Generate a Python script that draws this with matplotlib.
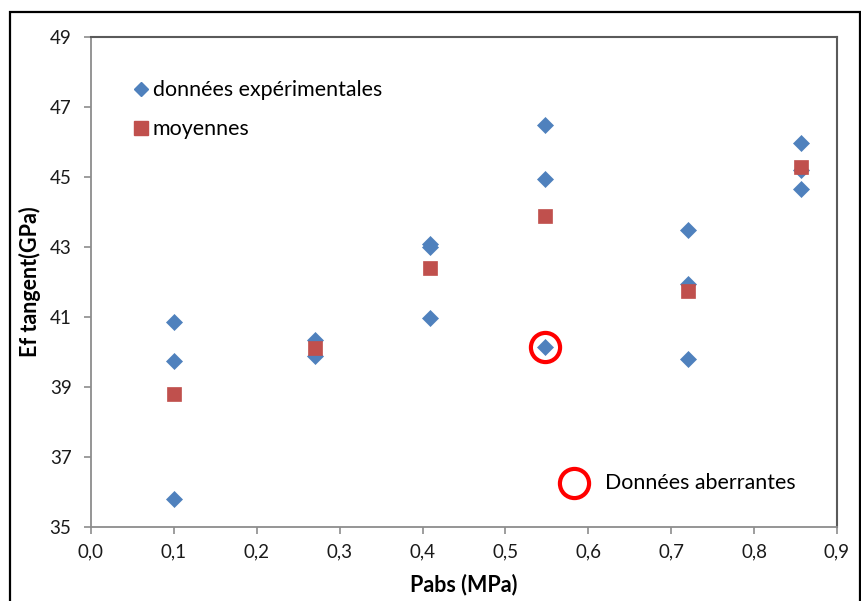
import matplotlib
matplotlib.use("Agg")
import matplotlib.pyplot as plt
from matplotlib.lines import Line2D
from matplotlib.patches import Rectangle
from matplotlib.ticker import FuncFormatter, MultipleLocator

plt.rcParams['font.family'] = ['Lato', 'DejaVu Sans']

# Experimental data
pressure_exp = [0.100, 0.100, 0.100,
                0.270, 0.270,
                0.409, 0.409, 0.409,
                0.548, 0.548, 0.548,
                0.720, 0.720, 0.720,
                0.857, 0.857, 0.857]
ef_exp = [40.85, 39.75, 35.80,
          40.35, 39.90,
          43.10, 43.00, 40.97,
          46.50, 44.93, 40.13,
          43.49, 41.95, 39.79,
          45.98, 45.20, 44.65]

# Means
pressure_mean = [0.100, 0.270, 0.409, 0.548, 0.720, 0.857]
ef_mean = [38.80, 40.12, 42.40, 43.88, 41.75, 45.30]

# Outlier
outlier_x = [0.548]
outlier_y = [40.13]

y_ticks = [35, 37, 39, 41, 43, 45, 47, 49]

blue = '#4F81BD'
red = '#C0504D'

W, H = 862, 601
fig = plt.figure(figsize=(W / 100, H / 100), dpi=100)
ax = fig.add_axes([91 / W, 1 - 527 / H, (837 - 91) / W, (527 - 37) / H])

ax.plot(pressure_exp, ef_exp, linestyle='none', marker='D', ms=8.3,
        color=blue, mec=blue, mew=0.5, zorder=3)
ax.plot(pressure_mean, ef_mean, linestyle='none', marker='s', ms=10.5,
        color=red, mec=red, mew=0.5, zorder=4)
ax.plot(outlier_x, outlier_y, linestyle='none', marker='o', ms=21,
        mfc='none', mec='#FF0000', mew=3, zorder=5)

ax.set_xlim(0, 0.9)
ax.set_ylim(35, 49)
ax.xaxis.set_major_locator(MultipleLocator(0.1))
ax.set_yticks(y_ticks)
ax.xaxis.set_major_formatter(FuncFormatter(lambda v, p: f"{v:.1f}".replace('.', ',')))
ax.yaxis.set_major_formatter(FuncFormatter(lambda v, p: f"{v:.0f}"))

for s in ['left', 'bottom']:
    ax.spines[s].set_color('#8C8C8C')
    ax.spines[s].set_linewidth(1.3)
for s in ['top', 'right']:
    ax.spines[s].set_color('#5A5A5A')
    ax.spines[s].set_linewidth(1.5)

ax.tick_params(axis='both', direction='out', length=5, width=1.2,
               color='#8C8C8C', labelsize=13.5, labelcolor='#1a1a1a')
ax.tick_params(axis='y', pad=9)
ax.tick_params(axis='x', pad=7)

ax.set_xlabel('Pabs (MPa)', fontsize=15.5, fontweight='bold', va='center')
ax.xaxis.set_label_coords(0.5, (527 - 585) / 490)
ax.set_ylabel('Ef tangent(GPa)', fontsize=15.5, fontweight='bold', va='center')
ax.yaxis.set_label_coords((30 - 91) / 746, 0.5)

handles = [Line2D([], [], linestyle='none', marker='D', ms=7, color=blue),
           Line2D([], [], linestyle='none', marker='s', ms=10.5, color=red)]
leg = ax.legend(handles, ['données expérimentales', 'moyennes'],
                loc='upper left', bbox_to_anchor=(131 / W, 1 - 80 / H),
                bbox_transform=fig.transFigure, frameon=False,
                fontsize=15.4, handlelength=0.9, handletextpad=0.12,
                labelspacing=0.9, borderpad=0, borderaxespad=0)

# Annotation key for outliers
ax.plot([(574 - 91) / 746], [(527 - 483) / 490], transform=ax.transAxes,
        linestyle='none', marker='o', ms=21, mfc='none', mec='#FF0000', mew=3,
        clip_on=False)
ax.text((605 - 91) / 746, (527 - 483) / 490, 'Données aberrantes',
        transform=ax.transAxes, fontsize=15.4, va='center', ha='left')

# Outer chart border
fig.patches.append(Rectangle((10 / W, -0.05), (860 - 10) / W, 1 - 12 / H + 0.05,
                             transform=fig.transFigure, fill=False,
                             edgecolor='black', linewidth=1.6))

fig.savefig('out.png', dpi=100)
